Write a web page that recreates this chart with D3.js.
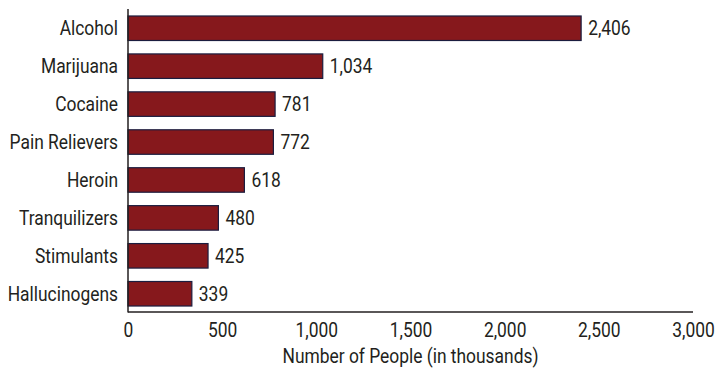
<!DOCTYPE html>
<html>
<head>
<meta charset="utf-8">
<script src="https://cdn.jsdelivr.net/npm/d3@7/dist/d3.min.js"></script>
<style>
  html, body { margin: 0; padding: 0; background: #fff; }
  svg text { font-family: Roboto, "Liberation Sans", sans-serif; fill: #231f20; }
</style>
</head>
<body>
<svg id="chart" width="715" height="368"></svg>
<script>
// Substances and people using them (thousands)
const categories = ["Alcohol", "Marijuana", "Cocaine", "Pain Relievers", "Heroin", "Tranquilizers", "Stimulants", "Hallucinogens"];
const values = [2406, 1034, 781, 772, 618, 480, 425, 339];
const xTicks = [0, 500, 1000, 1500, 2000, 2500, 3000];
const xTitle = "Number of People (in thousands)";

const svg = d3.select("#chart");
const plotLeft = 128, plotRight = 693, plotTop = 10, plotBottom = 312;
const fontSize = 20;
const squeeze = 0.87; // narrow the glyphs horizontally for a condensed look

const x = d3.scaleLinear().domain([0, 3000]).range([plotLeft, plotRight]);
const y = d3.scaleBand().domain(categories).range([plotTop, plotBottom]).paddingInner(0.354).paddingOuter(0.158);

const fmt = d3.format(",");

// bars
svg.append("g").selectAll("rect")
  .data(values)
  .join("rect")
  .attr("x", x(0))
  .attr("y", (d, i) => y(categories[i]))
  .attr("width", d => x(d) - x(0))
  .attr("height", y.bandwidth())
  .attr("fill", "#86181c")
  .attr("stroke", "#1b1d3f")
  .attr("stroke-width", 1.2);

// value labels
svg.append("g").selectAll("text")
  .data(values)
  .join("text")
  .attr("transform", (d, i) => `translate(${x(d) + 7},${y(categories[i]) + y.bandwidth() / 2}) scale(${squeeze},1)`)
  .attr("dy", "0.36em")
  .attr("font-size", fontSize)
  .text(d => fmt(d));

// category axis
const yAxis = svg.append("g").attr("transform", `translate(${plotLeft},0)`)
  .call(d3.axisLeft(y).tickSize(0).tickPadding(10));
yAxis.select(".domain").remove();
yAxis.selectAll("text")
  .attr("font-size", fontSize).attr("font-family", null)
  .attr("x", -10 / squeeze)
  .attr("dy", "0.36em")
  .attr("transform", `scale(${squeeze},1)`);
svg.append("line").attr("x1", plotLeft).attr("x2", plotLeft).attr("y1", 9).attr("y2", plotBottom + 0.5)
  .attr("stroke", "#231f20").attr("stroke-width", 1.5);

// value axis
const xAxis = svg.append("g").attr("transform", `translate(0,${plotBottom})`)
  .call(d3.axisBottom(x).tickValues(xTicks).tickFormat(fmt).tickSize(0).tickPadding(11));
xAxis.select(".domain").remove();
xAxis.selectAll("text")
  .attr("font-size", fontSize).attr("font-family", null)
  .attr("transform", `scale(${squeeze},1)`);
svg.append("line").attr("x1", plotLeft).attr("x2", plotRight).attr("y1", plotBottom).attr("y2", plotBottom)
  .attr("stroke", "#231f20").attr("stroke-width", 1.5);

svg.append("text")
  .attr("transform", `translate(${x(1500)},363) scale(${squeeze},1)`)
  .attr("text-anchor", "middle")
  .attr("font-size", fontSize)
  .text(xTitle);
</script>
</body>
</html>
